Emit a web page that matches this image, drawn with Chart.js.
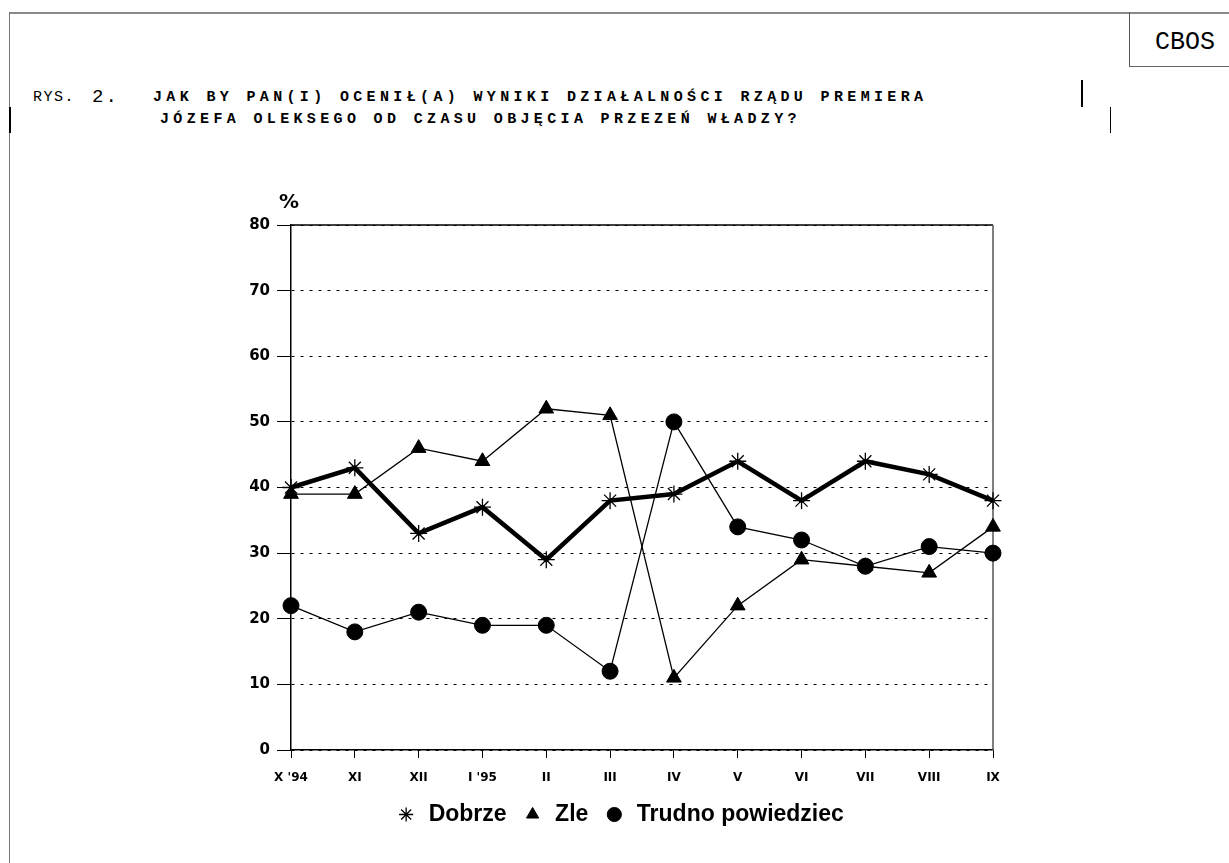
<!DOCTYPE html>
<html>
<head>
<meta charset="utf-8">
<script src="https://cdn.jsdelivr.net/npm/chart.js@4.4.0/dist/chart.umd.min.js"></script>
<style>
html,body{margin:0;padding:0;background:#fff;}
body{width:1229px;height:863px;position:relative;overflow:hidden;}
#c{position:absolute;left:0;top:0;width:1229px;height:863px;}
.ln{position:absolute;}
.t{position:absolute;font-family:"Courier New","Liberation Mono",monospace;color:#000;white-space:pre;line-height:1;}
.b{font-weight:bold;font-size:15px;letter-spacing:4.35px;}
</style>
</head>
<body>
<div class="ln" style="left:9px;top:12px;width:1220px;height:2px;background:#8a8a8a;"></div>
<div class="ln" style="left:9px;top:12px;width:1px;height:851px;background:#777;"></div>
<div class="ln" style="left:9px;top:107px;width:2px;height:26px;background:#000;"></div>
<div class="ln" style="left:1129px;top:12px;width:100px;height:54px;border-left:1px solid #555;border-bottom:1px solid #666;"></div>
<div class="t" style="left:1155px;top:30px;font-size:25px;">CBOS</div>
<div class="ln" style="left:1081px;top:80px;width:2px;height:27px;background:#000;"></div>
<div class="ln" style="left:1110px;top:107px;width:1px;height:26px;background:#000;"></div>
<div class="t" style="left:33px;top:90px;font-size:15px;letter-spacing:1.5px;">RYS.</div>
<div class="t" style="left:92px;top:87.5px;font-size:19px;letter-spacing:2px;">2.</div>
<div class="t b" style="left:153px;top:90px;">JAK BY PAN(I) OCENIŁ(A) WYNIKI DZIAŁALNOŚCI RZĄDU PREMIERA</div>
<div class="t b" style="left:160px;top:112px;">JÓZEFA OLEKSEGO OD CZASU OBJĘCIA PRZEZEŃ WŁADZY?</div>
<canvas id="c" width="1229" height="863"></canvas>
<script>
const categories = ["X '94","XI","XII","I '95","II","III","IV","V","VI","VII","VIII","IX"];
const dobrze = [40,43,33,37,29,38,39,44,38,44,42,38];
const zle = [39,39,46,44,52,51,11,22,29,28,27,34];
const trudno = [22,18,21,19,19,12,50,34,32,28,31,30];
const yTicks = [0,10,20,30,40,50,60,70,80];
const seriesNames = ["Dobrze","Zle","Trudno powiedziec"];
const unitLabel = "%";

const framePlugin = {
  id: 'frame',
  beforeDatasetsDraw(chart) {
    const {ctx, chartArea: a} = chart;
    ctx.save();
    ctx.setLineDash([]);
    ctx.strokeStyle = '#000';
    ctx.lineWidth = 1.5;
    ctx.beginPath();
    ctx.moveTo(a.left, a.top);
    ctx.lineTo(a.right, a.top);
    ctx.stroke();
    ctx.strokeStyle = '#555';
    ctx.lineWidth = 1.5;
    ctx.beginPath();
    ctx.moveTo(a.right, a.top);
    ctx.lineTo(a.right, a.bottom);
    ctx.stroke();
    ctx.fillStyle = '#000';
    ctx.font = 'bold 20px "DejaVu Sans"';
    ctx.textAlign = 'center';
    ctx.textBaseline = 'middle';
    ctx.fillText(unitLabel, a.left - 2, a.top - 22);
    ctx.restore();
  }
};

const tickFontY = {family: '"DejaVu Sans", sans-serif', size: 15, weight: 'bold'};
const tickFontX = {family: '"DejaVu Sans", sans-serif', size: 12, weight: 'bold'};

new Chart(document.getElementById('c'), {
  type: 'line',
  data: {
    labels: categories,
    datasets: [
      {label: seriesNames[0], data: dobrze, borderColor: '#000', backgroundColor: '#000', borderWidth: 4.5,
       pointStyle: 'star', pointRadius: 8.5, pointBorderWidth: 1.3, pointBorderColor: '#000', pointBackgroundColor: '#000', tension: 0, clip: false},
      {label: seriesNames[1], data: zle, borderColor: '#000', backgroundColor: '#000', borderWidth: 1.3,
       pointStyle: 'triangle', pointRadius: 8.5, pointBorderWidth: 1, pointBorderColor: '#000', pointBackgroundColor: '#000', tension: 0, clip: false},
      {label: seriesNames[2], data: trudno, borderColor: '#000', backgroundColor: '#000', borderWidth: 1.3,
       pointStyle: 'circle', pointRadius: 8, pointBorderWidth: 1, pointBorderColor: '#000', pointBackgroundColor: '#000', tension: 0, clip: false}
    ]
  },
  options: {
    responsive: false,
    animation: false,
    devicePixelRatio: 1,
    layout: {padding: {left: 246, right: 236, top: 225, bottom: 27}},
    plugins: {
      legend: {
        position: 'bottom',
        labels: {
          usePointStyle: true, boxWidth: 22, boxHeight: 10, padding: 15, color: '#000',
          font: {family: '"Liberation Sans", Arial, sans-serif', size: 23, weight: 'bold'}
        }
      },
      tooltip: {enabled: false}
    },
    scales: {
      x: {
        type: 'category',
        offset: false,
        grid: {drawOnChartArea: false, drawTicks: true, tickLength: 8, color: '#000', tickColor: '#000', tickWidth: 1},
        border: {color: '#000', width: 1.5},
        ticks: {padding: 13, color: '#000', font: tickFontX, maxRotation: 0, autoSkip: false},
        afterFit(s) { s.height = 38; }
      },
      y: {
        min: 0, max: 80,
        afterBuildTicks(s) { s.ticks = yTicks.map(v => ({value: v})); },
        ticks: {padding: 7, color: '#000', font: tickFontY},
        grid: {color: '#000', lineWidth: 1, tickLength: 14, tickColor: '#000', tickWidth: 1, tickBorderDash: []},
        border: {color: '#000', width: 1.5, dash: [3, 6]},
        afterFit(s) { s.width = 45; }
      }
    }
  },
  plugins: [framePlugin]
});
</script>
</body>
</html>
